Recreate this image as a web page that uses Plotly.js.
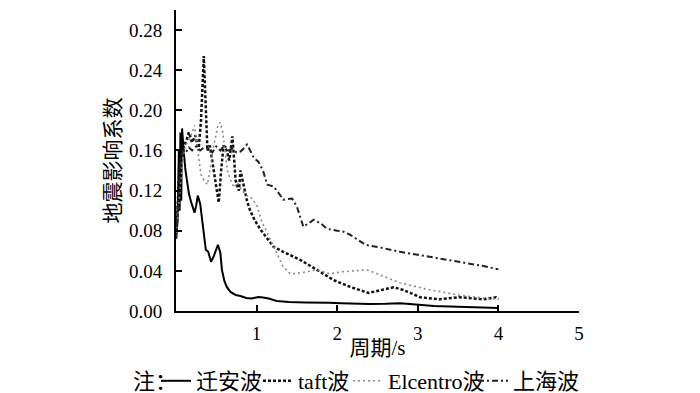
<!DOCTYPE html>
<html>
<head>
<meta charset="utf-8">
<script src="https://cdn.plot.ly/plotly-3.0.1.min.js"></script>
<style>
html,body{margin:0;padding:0;background:#fff;}
#chart svg text{font-family:'Liberation Serif','Noto Sans CJK SC' !important;}
</style>
</head>
<body>
<div id="chart" style="width:700px;height:393px"></div>
<script>
// 迁安波 (solid)
var qiananX = [0, 0.02, 0.035, 0.045, 0.055, 0.065, 0.075, 0.085, 0.1, 0.118, 0.14, 0.16, 0.19, 0.23, 0.25, 0.27, 0.3, 0.33, 0.37, 0.4, 0.435, 0.47, 0.5, 0.52, 0.55, 0.57, 0.6, 0.63, 0.675, 0.74, 0.8, 0.87, 0.94, 1.02, 1.08, 1.15, 1.25, 1.4, 1.6, 1.75, 1.9, 2.05, 2.2, 2.4, 2.6, 2.78, 2.9, 3.03, 3.2, 3.4, 3.6, 3.8, 4.0];
var qiananY = [0.072, 0.09, 0.16, 0.1, 0.178, 0.11, 0.182, 0.165, 0.155, 0.14, 0.128, 0.117, 0.108, 0.098, 0.105, 0.115, 0.107, 0.085, 0.061, 0.059, 0.049, 0.055, 0.063, 0.066, 0.058, 0.041, 0.03, 0.024, 0.019, 0.016, 0.015, 0.013, 0.0125, 0.014, 0.0135, 0.0125, 0.01, 0.009, 0.0085, 0.008, 0.0082, 0.0078, 0.0072, 0.007, 0.0072, 0.0077, 0.007, 0.006, 0.005, 0.0045, 0.004, 0.0035, 0.003];

// taft波 (heavy short dashes, spike)
var taftX = [0, 0.03, 0.06, 0.1, 0.13, 0.16, 0.2, 0.24, 0.28, 0.31, 0.345, 0.37, 0.39, 0.42, 0.45, 0.49, 0.53, 0.56, 0.59, 0.63, 0.66, 0.7, 0.74, 0.78, 0.8, 0.84, 0.88, 0.92, 0.98, 1.05, 1.12, 1.21, 1.33, 1.54, 1.75, 1.95, 2.16, 2.39, 2.55, 2.7, 2.82, 3.03, 3.27, 3.52, 3.81, 3.97, 4.0];
var taftY = [0.072, 0.12, 0.15, 0.165, 0.17, 0.178, 0.168, 0.175, 0.16, 0.19, 0.254, 0.2, 0.16, 0.165, 0.15, 0.13, 0.108, 0.14, 0.165, 0.16, 0.15, 0.174, 0.13, 0.12, 0.14, 0.125, 0.11, 0.1, 0.09, 0.081, 0.074, 0.064, 0.059, 0.051, 0.041, 0.031, 0.024, 0.018, 0.021, 0.0236, 0.021, 0.0137, 0.0117, 0.0137, 0.0117, 0.0137, 0.012];

// Elcentro波 (light grey dots)
var elcentroX = [0, 0.04, 0.08, 0.12, 0.17, 0.21, 0.23, 0.27, 0.31, 0.35, 0.39, 0.43, 0.47, 0.52, 0.55, 0.58, 0.61, 0.64, 0.68, 0.72, 0.76, 0.82, 0.88, 0.92, 1.0, 1.06, 1.13, 1.25, 1.33, 1.42, 1.55, 1.75, 1.91, 2.05, 2.2, 2.37, 2.5, 2.78, 3.1, 3.5, 3.8, 4.0];
var elcentroY = [0.072, 0.11, 0.15, 0.165, 0.172, 0.18, 0.185, 0.16, 0.136, 0.13, 0.126, 0.145, 0.165, 0.185, 0.188, 0.178, 0.155, 0.139, 0.13, 0.123, 0.128, 0.12, 0.115, 0.114, 0.106, 0.09, 0.078, 0.058, 0.044, 0.037, 0.038, 0.041, 0.037, 0.039, 0.040, 0.041, 0.037, 0.028, 0.022, 0.016, 0.013, 0.012];

// 上海波 (dash-dot, upper)
var shanghaiX = [0, 0.03, 0.06, 0.09, 0.12, 0.16, 0.2, 0.25, 0.3, 0.35, 0.4, 0.45, 0.5, 0.55, 0.6, 0.65, 0.7, 0.75, 0.8, 0.84, 0.88, 0.92, 0.97, 1.02, 1.08, 1.13, 1.21, 1.27, 1.33, 1.44, 1.5, 1.58, 1.64, 1.71, 1.8, 1.87, 2.0, 2.08, 2.16, 2.24, 2.35, 2.55, 2.78, 3.0, 3.19, 3.4, 3.6, 3.8, 4.0];
var shanghaiY = [0.072, 0.12, 0.155, 0.16, 0.158, 0.163, 0.16, 0.164, 0.16, 0.163, 0.162, 0.158, 0.164, 0.16, 0.165, 0.16, 0.162, 0.158, 0.159, 0.162, 0.166, 0.16, 0.152, 0.149, 0.14, 0.126, 0.124, 0.118, 0.111, 0.112, 0.104, 0.084, 0.087, 0.091, 0.087, 0.082, 0.08, 0.079, 0.076, 0.072, 0.066, 0.063, 0.059, 0.056, 0.0535, 0.051, 0.048, 0.045, 0.0415];

var names = ['迁安波', 'taft波', 'Elcentro波', '上海波'];
var xTicks = [1, 2, 3, 4, 5];
var yTicks = [0, 0.04, 0.08, 0.12, 0.16, 0.20, 0.24, 0.28];
var yTickText = ['0.00', '0.04', '0.08', '0.12', '0.16', '0.20', '0.24', '0.28'];

var FONT = 'Liberation Serif, Noto Sans CJK SC';

var traces = [
  {x: qiananX, y: qiananY, name: names[0], legend: 'legend', mode: 'lines', line: {color: '#000', width: 2}},
  {x: taftX, y: taftY, name: names[1], legend: 'legend2', mode: 'lines', line: {color: '#111', width: 2.5, dash: '3px,2px'}},
  {x: elcentroX, y: elcentroY, name: names[2], legend: 'legend3', mode: 'lines', line: {color: '#8a8a8a', width: 1.6, dash: '2px,3px'}},
  {x: shanghaiX, y: shanghaiY, name: names[3], legend: 'legend4', mode: 'lines', line: {color: '#222', width: 2, dash: '6px,3px,2px,3px'}}
];

function leg(px) {
  return {orientation: 'h', xref: 'container', yref: 'container',
          x: px / 700, xanchor: 'left', y: 1 - 381 / 393, yanchor: 'middle',
          font: {family: FONT, size: 22, color: '#000'}, bgcolor: 'rgba(0,0,0,0)', borderwidth: 0,
          itemwidth: 30};
}

var layout = {
  width: 700, height: 393,
  margin: {l: 176, r: 121, t: 10, b: 82, pad: 0, autoexpand: false},
  paper_bgcolor: '#fff', plot_bgcolor: '#fff',
  font: {family: FONT, size: 19, color: '#000'},
  showlegend: true,
  legend: leg(156), legend2: leg(258), legend3: leg(348), legend4: leg(473),
  xaxis: {range: [0, 5], tickmode: 'array', tickvals: xTicks, ticktext: xTicks.map(String),
          ticks: 'inside', ticklen: 6, tickwidth: 1.5, tickcolor: '#000',
          showline: true, linecolor: '#000', linewidth: 2, showgrid: false, zeroline: false,
          tickfont: {family: FONT, size: 19, color: '#000'}, ticklabelstandoff: 4, automargin: false,
          title: {text: '周期/s', font: {family: FONT, size: 21, color: '#000'}, standoff: 2}},
  yaxis: {range: [0, 0.30], tickmode: 'array', tickvals: yTicks, ticktext: yTickText,
          ticks: 'inside', ticklen: 6, tickwidth: 1.5, tickcolor: '#000',
          showline: true, linecolor: '#000', linewidth: 2, showgrid: false, zeroline: false,
          tickfont: {family: FONT, size: 19, color: '#000'}, ticklabelstandoff: 8, automargin: false,
          title: {text: '地震影响系数', font: {family: FONT, size: 21, color: '#000'}, standoff: 3}},
  annotations: [
    {text: '注：', xref: 'paper', yref: 'paper', x: (155 - 176) / 403, y: (311 - 381) / 301, xanchor: 'center', yanchor: 'middle',
     showarrow: false, font: {family: FONT, size: 22, color: '#000'}}
  ]
};

Plotly.newPlot('chart', traces, layout, {displayModeBar: false});
</script>
</body>
</html>
